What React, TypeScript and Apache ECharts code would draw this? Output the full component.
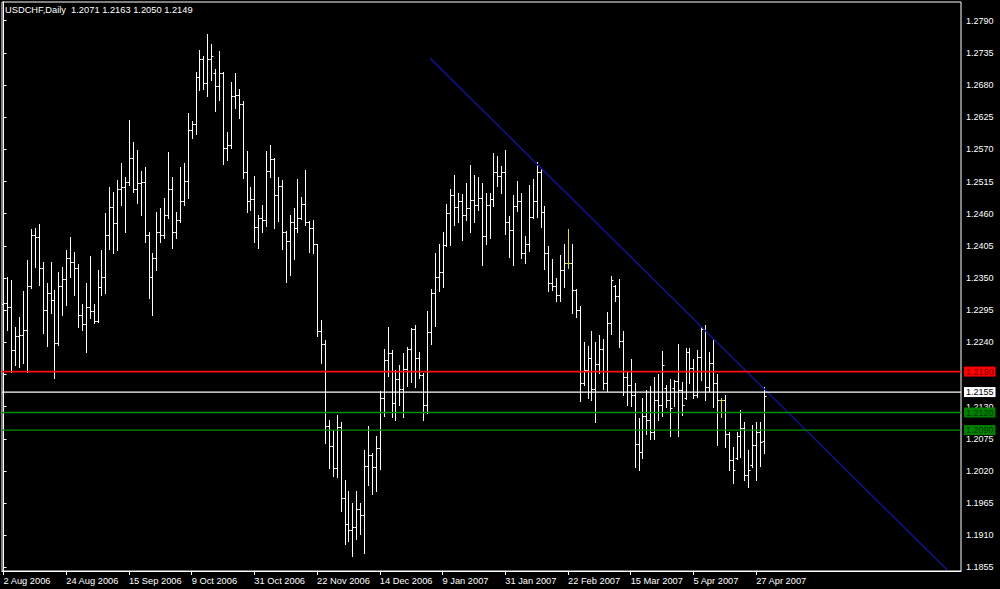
import { useEffect, useRef } from "react";
import * as echarts from "echarts";

const SYMBOL = "USDCHF,Daily";
const X_LABELS = [
  "2 Aug 2006", "24 Aug 2006", "15 Sep 2006", "9 Oct 2006", "31 Oct 2006",
  "22 Nov 2006", "14 Dec 2006", "9 Jan 2007", "31 Jan 2007", "22 Feb 2007",
  "15 Mar 2007", "5 Apr 2007", "27 Apr 2007",
];
const LABEL_STEP = 16;
const Y_TICKS = [
  1.1855, 1.191, 1.1965, 1.202, 1.2075, 1.213, 1.2185, 1.224, 1.2295, 1.235,
  1.2405, 1.246, 1.2515, 1.257, 1.2625, 1.268, 1.2735, 1.279,
];
// 1.2185 is completely hidden behind the red 1.2190 price box in the reference
const Y_LABELS = [
  1.1855, 1.191, 1.1965, 1.202, 1.2075, 1.213, 1.224, 1.2295, 1.235,
  1.2405, 1.246, 1.2515, 1.257, 1.2625, 1.268, 1.2735, 1.279,
];

const OPEN = [
  1.2306,1.2307,1.2300,1.2227,1.2250,1.2253,1.2261,1.2336,1.2424,1.2421,
  1.2367,1.2295,1.2325,1.2312,1.2239,1.2336,1.2348,1.2384,1.2377,1.2367,
  1.2287,1.2271,1.2300,1.2294,1.2277,1.2335,1.2351,1.2424,1.2471,1.2444,
  1.2503,1.2506,1.2515,1.2556,1.2502,1.2512,1.2515,1.2424,1.2351,1.2384,
  1.2429,1.2424,1.2458,1.2503,1.2429,1.2449,1.2482,1.2516,1.2603,1.2613,
  1.2694,1.2725,1.2683,1.2724,1.2700,1.2678,1.2701,1.2572,1.2577,1.2661,
  1.2663,1.2648,1.2532,1.2482,1.2485,1.2437,1.2452,1.2449,1.2533,1.2554,
  1.2492,1.2507,1.2428,1.2413,1.2445,1.2435,1.2453,1.2476,1.2446,1.2436,
  1.2408,1.2260,1.2237,1.2097,1.2063,1.2025,1.2095,1.1973,1.1929,1.1919,
  1.1925,1.1955,1.1945,1.2029,1.2047,1.2027,1.2059,1.2144,1.2210,1.2222,
  1.2137,1.2177,1.2161,1.2194,1.2228,1.2262,1.2213,1.2184,1.2133,1.2258,
  1.2325,1.2351,1.2361,1.2406,1.2461,1.2492,1.2472,1.2482,1.2458,1.2469,
  1.2483,1.2475,1.2486,1.2422,1.2475,1.2485,1.2532,1.2524,1.2532,1.2446,
  1.2432,1.2473,1.2481,1.2393,1.2409,1.2455,1.2481,1.2532,1.2463,1.2393,
  1.2342,1.2336,1.2321,1.2363,1.2375,1.2375,1.2330,1.2295,1.2171,1.2193,
  1.2213,1.2161,1.2203,1.2228,1.2170,1.2273,1.2336,1.2319,1.2242,1.2181,
  1.2167,1.2150,1.2067,1.2053,1.2114,1.2107,1.2086,1.2141,1.2133,1.2162,
  1.2141,1.2162,1.2174,1.2159,1.2145,1.2224,1.2196,1.2150,1.2215,1.2262,
  1.2163,1.2205,1.2170,1.2141,1.2141,1.2084,1.2038,1.2042,1.2080,1.2094,
  1.2013,1.2030,1.2064,1.2086,1.2071,
];
const HIGH = [
  1.2318,1.2352,1.2347,1.2267,1.2284,1.2327,1.2381,1.2434,1.2436,1.2442,
  1.2378,1.2342,1.2378,1.2330,1.2361,1.2368,1.2398,1.2421,1.2395,1.2374,
  1.2306,1.2341,1.2388,1.2306,1.2364,1.2398,1.2462,1.2505,1.2497,1.2518,
  1.2546,1.2523,1.2620,1.2582,1.2569,1.2533,1.2539,1.2428,1.2392,1.2463,
  1.2470,1.2487,1.2566,1.2522,1.2463,1.2540,1.2546,1.2632,1.2619,1.2703,
  1.2740,1.2730,1.2767,1.2750,1.2707,1.2738,1.2703,1.2600,1.2686,1.2701,
  1.2673,1.2652,1.2567,1.2506,1.2525,1.2458,1.2475,1.2567,1.2577,1.2556,
  1.2522,1.2518,1.2430,1.2457,1.2469,1.2519,1.2489,1.2535,1.2447,1.2449,
  1.2409,1.2279,1.2244,1.2107,1.2090,1.2116,1.2104,1.2005,1.1986,1.1965,
  1.1986,1.1965,1.2056,1.2097,1.2051,1.2080,1.2157,1.2228,1.2266,1.2227,
  1.2193,1.2201,1.2222,1.2232,1.2264,1.2270,1.2224,1.2187,1.2294,1.2331,
  1.2392,1.2409,1.2428,1.2477,1.2503,1.2526,1.2495,1.2494,1.2512,1.2543,
  1.2526,1.2523,1.2513,1.2495,1.2495,1.2564,1.2559,1.2542,1.2569,1.2456,
  1.2492,1.2516,1.2495,1.2422,1.2509,1.2519,1.2549,1.2536,1.2473,1.2405,
  1.2382,1.2350,1.2389,1.2409,1.2433,1.2408,1.2331,1.2302,1.2241,1.2234,
  1.2259,1.2241,1.2253,1.2245,1.2292,1.2353,1.2338,1.2348,1.2259,1.2190,
  1.2211,1.2170,1.2111,1.2144,1.2159,1.2165,1.2180,1.2186,1.2226,1.2167,
  1.2177,1.2176,1.2237,1.2173,1.2230,1.2230,1.2211,1.2227,1.2266,1.2270,
  1.2224,1.2244,1.2186,1.2144,1.2150,1.2087,1.2061,1.2087,1.2125,1.2103,
  1.2056,1.2099,1.2104,1.2103,1.2163,
];
const LOW = [
  1.2253,1.2261,1.2190,1.2201,1.2198,1.2204,1.2190,1.2333,1.2369,1.2338,
  1.2256,1.2233,1.2290,1.2179,1.2235,1.2287,1.2304,1.2352,1.2321,1.2267,
  1.2261,1.2224,1.2281,1.2273,1.2275,1.2321,1.2324,1.2400,1.2392,1.2398,
  1.2475,1.2429,1.2509,1.2497,1.2479,1.2458,1.2412,1.2315,1.2287,1.2364,
  1.2412,1.2418,1.2453,1.2401,1.2419,1.2445,1.2475,1.2487,1.2589,1.2597,
  1.2672,1.2674,1.2662,1.2689,1.2636,1.2654,1.2545,1.2552,1.2572,1.2640,
  1.2623,1.2521,1.2463,1.2466,1.2411,1.2402,1.2428,1.2439,1.2523,1.2436,
  1.2448,1.2400,1.2343,1.2355,1.2383,1.2428,1.2451,1.2441,1.2394,1.2393,
  1.2251,1.2204,1.2068,1.2025,1.2011,1.2010,1.1952,1.1896,1.1901,1.1875,
  1.1903,1.1913,1.1879,1.1996,1.1981,1.1986,1.2023,1.2114,1.2182,1.2113,
  1.2107,1.2133,1.2113,1.2165,1.2173,1.2164,1.2179,1.2108,1.2120,1.2238,
  1.2268,1.2328,1.2335,1.2404,1.2406,1.2441,1.2446,1.2415,1.2449,1.2429,
  1.2446,1.2466,1.2372,1.2409,1.2418,1.2474,1.2507,1.2496,1.2425,1.2386,
  1.2372,1.2465,1.2384,1.2376,1.2397,1.2452,1.2455,1.2438,1.2365,1.2328,
  1.2330,1.2311,1.2310,1.2335,1.2367,1.2290,1.2284,1.2139,1.2167,1.2144,
  1.2141,1.2104,1.2187,1.2161,1.2156,1.2254,1.2310,1.2232,1.2150,1.2133,
  1.2131,1.2027,1.2022,1.2043,1.2084,1.2074,1.2074,1.2108,1.2114,1.2130,
  1.2079,1.2131,1.2080,1.2116,1.2143,1.2171,1.2144,1.2147,1.2176,1.2141,
  1.2156,1.2130,1.2064,1.2112,1.2061,1.2022,1.2000,1.2040,1.2044,1.2005,
  1.1992,1.2026,1.2004,1.2028,1.2050,
];
const CLOSE = [
  1.2307,1.2300,1.2227,1.2250,1.2253,1.2261,1.2336,1.2424,1.2421,1.2367,
  1.2295,1.2325,1.2312,1.2239,1.2336,1.2348,1.2384,1.2377,1.2367,1.2287,
  1.2271,1.2300,1.2294,1.2277,1.2335,1.2351,1.2424,1.2471,1.2444,1.2503,
  1.2506,1.2515,1.2556,1.2502,1.2512,1.2515,1.2424,1.2351,1.2384,1.2429,
  1.2424,1.2458,1.2503,1.2429,1.2449,1.2482,1.2516,1.2603,1.2613,1.2694,
  1.2725,1.2683,1.2724,1.2730,1.2678,1.2701,1.2572,1.2577,1.2661,1.2663,
  1.2648,1.2532,1.2482,1.2485,1.2437,1.2452,1.2449,1.2533,1.2554,1.2492,
  1.2507,1.2428,1.2413,1.2445,1.2435,1.2453,1.2476,1.2446,1.2436,1.2408,
  1.2260,1.2237,1.2097,1.2063,1.2025,1.2095,1.1973,1.1929,1.1919,1.1925,
  1.1955,1.1945,1.2029,1.2047,1.2027,1.2059,1.2144,1.2210,1.2222,1.2137,
  1.2177,1.2161,1.2194,1.2228,1.2262,1.2213,1.2184,1.2133,1.2258,1.2325,
  1.2351,1.2361,1.2406,1.2461,1.2492,1.2472,1.2482,1.2458,1.2469,1.2483,
  1.2475,1.2486,1.2422,1.2475,1.2485,1.2532,1.2524,1.2532,1.2446,1.2432,
  1.2473,1.2481,1.2393,1.2409,1.2455,1.2481,1.2532,1.2463,1.2393,1.2342,
  1.2336,1.2321,1.2363,1.2375,1.2375,1.2330,1.2295,1.2171,1.2193,1.2213,
  1.2161,1.2203,1.2228,1.2170,1.2273,1.2347,1.2319,1.2242,1.2181,1.2167,
  1.2150,1.2067,1.2053,1.2114,1.2107,1.2086,1.2141,1.2133,1.2201,1.2141,
  1.2127,1.2174,1.2159,1.2133,1.2224,1.2196,1.2150,1.2215,1.2262,1.2163,
  1.2205,1.2170,1.2141,1.2141,1.2084,1.2038,1.2022,1.2080,1.2094,1.2013,
  1.2022,1.2064,1.2086,1.2070,1.2149,
];

// horizontal price levels: resistance (red), bid (white), supports (green)
const LEVELS = [1.219, 1.2155, 1.212, 1.209];
// trend line anchors: [bar index, price]
const TREND = [
  [108.8, 1.2726],
  [240.7, 1.1851],
];

const FONT = "'Liberation Sans', Arial, sans-serif";
const LEVEL_LINE_COLORS = ["#ff1010", "#ffffff", "#009000", "#009000"];
const LEVEL_LINE_WIDTHS = [1.8, 1.2, 1.3, 1.3];
const LEVEL_BOX_COLORS = ["#ff0000", "#ffffff", "#008000", "#008000"];
const LEVEL_TEXT_COLORS = ["#7a0000", "#000000", "#003a00", "#003a00"];

export default function App() {
  const ref = useRef<HTMLDivElement>(null);

  useEffect(() => {
    if (!ref.current) return;
    const chart = echarts.init(ref.current, undefined, { renderer: "svg" });
    const bars = OPEN.map((o, i) => [i, o, HIGH[i], LOW[i], CLOSE[i]]);
    const tickIdx = X_LABELS.map((_, k) => k * LABEL_STEP);
    const last = OPEN.length - 1;
    const title =
      SYMBOL +
      "\u00a0\u00a0" +
      [OPEN[last], HIGH[last], LOW[last], CLOSE[last]].map((v) => v.toFixed(4)).join(" ");
    const xMin = -0.38;
    const xMax = 244.26;

    const levelSeries = LEVELS.map((v, k) => ({
      type: "line",
      z: 5,
      data: [
        [xMin, v],
        [xMax, v],
      ],
      showSymbol: false,
      symbol: "none",
      silent: true,
      clip: false,
      lineStyle: { color: LEVEL_LINE_COLORS[k], width: LEVEL_LINE_WIDTHS[k], opacity: 1 },
      endLabel: {
        show: true,
        distance: 3,
        formatter: () => v.toFixed(4),
        backgroundColor: LEVEL_BOX_COLORS[k],
        color: LEVEL_TEXT_COLORS[k],
        padding: [1, 2, 0, 2],
        fontSize: 9,
        fontFamily: FONT,
      },
    }));

    chart.setOption({
      animation: false,
      backgroundColor: "#000000",
      title: {
        text: title,
        left: 5,
        top: 5,
        padding: 0,
        textStyle: { color: "#ffffff", fontSize: 9.3, fontWeight: "normal", fontFamily: FONT },
      },
      grid: {
        left: 2,
        right: 39,
        top: 2,
        bottom: 18,
        show: true,
        borderColor: "#ffffff",
        borderWidth: 1,
        backgroundColor: "#000000",
      },
      xAxis: {
        type: "value",
        min: xMin,
        max: xMax,
        axisLine: { show: true, lineStyle: { color: "#ffffff" } },
        axisTick: { show: true, customValues: tickIdx, length: 4, lineStyle: { color: "#ffffff" } },
        axisLabel: {
          customValues: tickIdx,
          formatter: (v: number) => X_LABELS[Math.round(v / LABEL_STEP)] ?? "",
          color: "#ffffff",
          fontSize: 9.3,
          fontFamily: FONT,
          align: "left",
          margin: 5,
        },
        splitLine: { show: false },
      },
      yAxis: {
        type: "value",
        position: "right",
        min: 1.1849,
        max: 1.2822,
        axisLine: { show: true, lineStyle: { color: "#ffffff" } },
        axisTick: { show: true, customValues: Y_TICKS, length: 3, lineStyle: { color: "#ffffff" } },
        axisLabel: {
          customValues: Y_LABELS,
          formatter: (v: number) => v.toFixed(4),
          color: "#ffffff",
          fontSize: 9,
          fontFamily: FONT,
          margin: 5,
        },
        splitLine: { show: false },
      },
      series: [
        {
          type: "custom",
          clip: true,
          z: 3,
          encode: { x: 0, y: [1, 2, 3, 4] },
          data: bars,
          renderItem: (_params: any, api: any) => {
            const i = api.value(0);
            const o = api.value(1);
            const h = api.value(2);
            const l = api.value(3);
            const c = api.value(4);
            const pH = api.coord([i, h]);
            const pL = api.coord([i, l]);
            const pO = api.coord([i, o]);
            const pC = api.coord([i, c]);
            const x = Math.round(pH[0]) + 0.5;
            const yO = Math.round(pO[1]) + 0.5;
            const yC = Math.round(pC[1]) + 0.5;
            const color = o === c ? "#e0e020" : "#ffffff";
            const st = { stroke: color, lineWidth: 1 };
            return {
              type: "group",
              children: [
                { type: "line", shape: { x1: x, y1: Math.round(pH[1]), x2: x, y2: Math.round(pL[1]) + 1 }, style: st },
                { type: "line", shape: { x1: x - 2, y1: yO, x2: x, y2: yO }, style: st },
                { type: "line", shape: { x1: x, y1: yC, x2: x + 2, y2: yC }, style: st },
              ],
            };
          },
        },
        ...levelSeries,
        {
          type: "line",
          z: 4,
          data: TREND,
          showSymbol: false,
          symbol: "none",
          clip: true,
          lineStyle: { color: "#12128c", width: 1.5 },
        },
      ],
    });
    return () => chart.dispose();
  }, []);

  return (
    <div
      ref={ref}
      style={{ position: "fixed", left: 0, top: 0, width: 1000, height: 589 }}
    />
  );
}
